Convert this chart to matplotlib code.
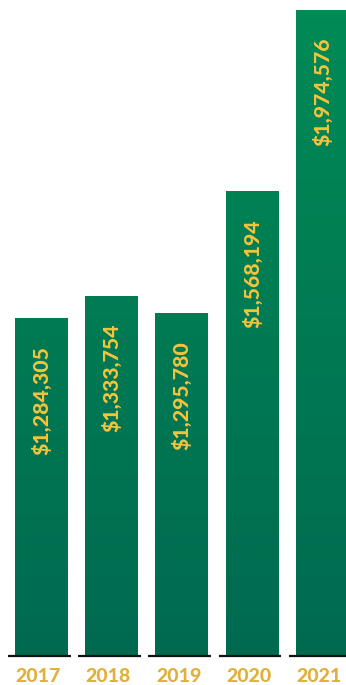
import numpy as np
import matplotlib
matplotlib.use("Agg")
import matplotlib.pyplot as plt
from matplotlib.colors import LinearSegmentedColormap
from matplotlib import transforms

# yearly totals
years = ["2017", "2018", "2019", "2020", "2021"]
totals = [1284305, 1333754, 1295780, 1568194, 1974576]

W, H = 346, 685
fig = plt.figure(figsize=(W / 100, H / 100), dpi=100)
ax = fig.add_axes([0, 30 / H, 1, 655 / H])

px_val = 2241.0  # dollars per pixel
y_min = 529000
y_max = y_min + 655 * px_val
ax.set_xlim(-0.583, 4.338)
ax.set_ylim(y_min, y_max)
ax.axis("off")

green = LinearSegmentedColormap.from_list("grn", ["#006a50", "#008b56"])
grad = np.linspace(0, 1, 256).reshape(-1, 1)
bw = 0.75
xs = np.arange(len(years))

bars = ax.bar(xs, [t - y_min for t in totals], bottom=y_min, width=bw,
              color="none", edgecolor="none")
for b in bars:
    x0 = b.get_x()
    im = ax.imshow(grad, cmap=green, origin="lower", aspect="auto",
                   extent=[x0, x0 + bw, y_min, y_max], interpolation="bilinear")
    im.set_clip_path(b)

# black base rule under each bar
for x in xs:
    ax.plot([x - bw / 2 - 0.1, x + bw / 2 + 0.045], [y_min - 1.2 * px_val] * 2,
            color="#111111", lw=1.6, solid_capstyle="butt", clip_on=False)

for x, t in zip(xs, totals):
    ax.text(x, t - 28 * px_val, f"${t:,}", rotation=90, ha="center", va="top",
            color="#f6c33c", fontsize=15.3, fontweight=900, family="Lato")

trans = transforms.blended_transform_factory(ax.transData, ax.transAxes)
for x, yr in zip(xs, years):
    ax.text(x - 0.04, -22 / 655, yr, transform=trans, ha="center", va="center",
            color="#e0b03a", fontsize=14, fontweight=900, family="Lato")

fig.savefig("out.png", dpi=100)
